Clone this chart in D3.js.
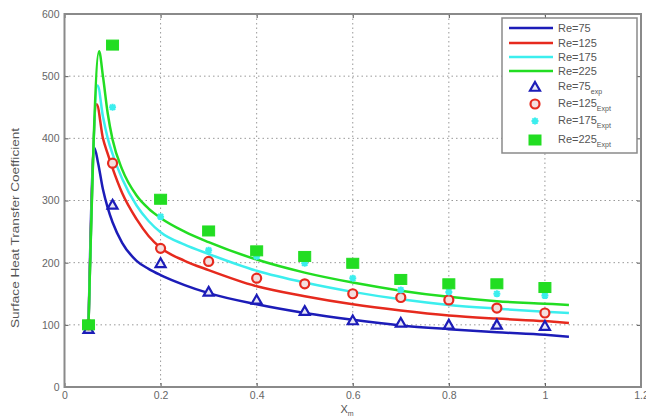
<!DOCTYPE html>
<html><head><meta charset="utf-8">
<script src="https://cdn.jsdelivr.net/npm/d3@7"></script>
<style>
html,body{margin:0;padding:0;background:#fff;}
svg{display:block;font-family:"Liberation Sans",Arial,sans-serif;}
</style></head>
<body><svg id="c" width="646" height="417"></svg>
<script>
// ---- data ----
const xTicks = [0, 0.2, 0.4, 0.6, 0.8, 1, 1.2];
const yTicks = [0, 100, 200, 300, 400, 500, 600];
const xTickLabels = ["0", "0.2", "0.4", "0.6", "0.8", "1", "1.2"];

const curveX75  = [0.05, 0.062, 0.07, 0.08, 0.09, 0.1, 0.12, 0.15, 0.175, 0.2, 0.25, 0.3, 0.4, 0.5, 0.6, 0.7, 0.8, 0.9, 1.0, 1.05];
const curveY75  = [100, 385, 360, 318, 288, 265, 232, 203, 190, 180, 164, 151, 133, 119, 108, 99, 93, 88, 84, 81];
const curveX125 = [0.05, 0.067, 0.08, 0.09, 0.1, 0.12, 0.15, 0.175, 0.2, 0.25, 0.3, 0.4, 0.5, 0.6, 0.7, 0.8, 0.9, 1.0, 1.05];
const curveY125 = [100, 455, 400, 375, 352, 312, 270, 243, 224, 203, 188, 162, 146, 133, 123, 115, 110, 106, 103];
const curveX175 = [0.05, 0.069, 0.08, 0.09, 0.1, 0.12, 0.15, 0.175, 0.2, 0.25, 0.3, 0.4, 0.5, 0.6, 0.7, 0.8, 0.9, 1.0, 1.05];
const curveY175 = [100, 485, 435, 400, 375, 335, 292, 267, 249, 229, 214, 187, 168, 153, 141, 132, 126, 121, 119];
const curveX225 = [0.05, 0.072, 0.08, 0.09, 0.1, 0.12, 0.15, 0.175, 0.2, 0.25, 0.3, 0.4, 0.5, 0.6, 0.7, 0.8, 0.9, 1.0, 1.05];
const curveY225 = [100, 540, 500, 440, 398, 350, 308, 287, 272, 250, 233, 205, 184, 168, 155, 145, 138, 134, 132];

const expX    = [0.05, 0.1, 0.2, 0.3, 0.4, 0.5, 0.6, 0.7, 0.8, 0.9, 1.0];
const exp75   = [93, 293, 199, 153, 140, 122, 107, 103, 100, 100, 98];
const exp125  = [100, 360, 223, 202, 175, 166, 150, 144, 140, 127, 119];
const exp175  = [100, 450, 274, 220, 210, 199, 175, 156, 153, 150, 147];
const exp225  = [100, 550, 302, 251, 219, 210, 199, 173, 166, 166, 160];

const lineNames = ["Re=75", "Re=125", "Re=175", "Re=225"];
const expNames  = [["Re=75", "exp"], ["Re=125", "Expt"], ["Re=175", "Expt"], ["Re=225", "Expt"]];
const colors = ["#1c1cb8", "#e62a1e", "#3ceeee", "#22dd22"];

// ---- layout ----
const svg = d3.select("#c");
const L = 64.5, R = 641, T = 14, B = 387;
const x = d3.scaleLinear().domain([0, 1.2]).range([L, R]);
const y = d3.scaleLinear().domain([0, 600]).range([B, T]);

// grid
const g = svg.append("g");
g.selectAll("line.gx").data(xTicks.slice(1, -1)).enter().append("line")
  .attr("x1", d => x(d)).attr("x2", d => x(d)).attr("y1", T).attr("y2", B)
  .attr("stroke", "#999").attr("stroke-width", 1).attr("stroke-dasharray", "1.5,3");
g.selectAll("line.gy").data(yTicks.slice(1, -1)).enter().append("line")
  .attr("y1", d => y(d)).attr("y2", d => y(d)).attr("x1", L).attr("x2", R)
  .attr("stroke", "#999").attr("stroke-width", 1).attr("stroke-dasharray", "1.5,3");

// axes
const xAx = d3.axisBottom(x).tickValues(xTicks).tickFormat((d, i) => xTickLabels[i]).tickSizeInner(-4).tickSizeOuter(0).tickPadding(5);
const yAx = d3.axisLeft(y).tickValues(yTicks).tickFormat(d3.format("d")).tickSizeInner(-4).tickSizeOuter(0).tickPadding(5);
const gx = svg.append("g").attr("transform", `translate(0,${B})`).call(xAx);
const gy = svg.append("g").attr("transform", `translate(${L},0)`).call(yAx);
[gx, gy].forEach(a => {
  a.select(".domain").remove();
  a.selectAll(".tick line").attr("stroke", "#555");
  a.selectAll(".tick text").attr("fill", "#666").style("font-size", "10.5px");
});
// top/right ticks
svg.append("g").attr("transform", `translate(0,${T})`).call(d3.axisTop(x).tickValues(xTicks).tickFormat("").tickSizeInner(-4).tickSizeOuter(0))
  .call(a => { a.select(".domain").remove(); a.selectAll("line").attr("stroke", "#555"); });
svg.append("g").attr("transform", `translate(${R},0)`).call(d3.axisRight(y).tickValues(yTicks).tickFormat("").tickSizeInner(-4).tickSizeOuter(0))
  .call(a => { a.select(".domain").remove(); a.selectAll("line").attr("stroke", "#555"); });

// frame
svg.append("rect").attr("x", L).attr("y", T).attr("width", R - L).attr("height", B - T)
  .attr("fill", "none").attr("stroke", "#8a8a8a").attr("stroke-width", 2);

// curves
const curves = [[curveX75, curveY75], [curveX125, curveY125], [curveX175, curveY175], [curveX225, curveY225]];
const line = d3.line().x(d => x(d[0])).y(d => y(d[1])).curve(d3.curveMonotoneX);
curves.forEach((c, i) => {
  const pts = c[0].map((v, j) => [v, c[1][j]]);
  svg.append("path").attr("d", line(pts)).attr("fill", "none")
    .attr("stroke", colors[i]).attr("stroke-width", 2.5).attr("stroke-linejoin", "round");
});

// markers
function tri(gg, cx, cy, col) {
  const s = 5;
  gg.append("path").attr("d", `M${cx},${cy - s}L${cx + s},${cy + s * 0.75}L${cx - s},${cy + s * 0.75}Z`)
    .attr("fill", "#e8e8f6").attr("stroke", col).attr("stroke-width", 2.2);
}
function circ(gg, cx, cy, col) {
  gg.append("circle").attr("cx", cx).attr("cy", cy).attr("r", 4.5)
    .attr("fill", "#f4dede").attr("stroke", col).attr("stroke-width", 2.2);
}
function star(gg, cx, cy, col) {
  const s = 3.5;
  gg.append("path").attr("d", `M${cx - s},${cy}L${cx + s},${cy}M${cx},${cy - s}L${cx},${cy + s}M${cx - s * 0.75},${cy - s * 0.75}L${cx + s * 0.75},${cy + s * 0.75}M${cx - s * 0.75},${cy + s * 0.75}L${cx + s * 0.75},${cy - s * 0.75}`)
    .attr("stroke", col).attr("stroke-width", 2);
}
function sq(gg, cx, cy, col) {
  gg.append("rect").attr("x", cx - 6).attr("y", cy - 5).attr("width", 12).attr("height", 10)
    .attr("fill", col).attr("stroke", col).attr("stroke-width", 1);
}
const mk = [tri, circ, star, sq];
const expData = [exp75, exp125, exp175, exp225];
const mg = svg.append("g");
[0, 1, 2, 3].forEach(i => {
  expX.forEach((v, j) => mk[i](mg, x(v), y(expData[i][j]), colors[i]));
});

// legend
const lg = svg.append("g");
lg.append("rect").attr("x", 502).attr("y", 18).attr("width", 135).attr("height", 135)
  .attr("fill", "#fff").attr("stroke", "#8a8a8a").attr("stroke-width", 1.5);
const rowsY = [28, 43, 57, 71, 87, 104, 121, 140];
lineNames.forEach((n, i) => {
  lg.append("line").attr("x1", 509).attr("x2", 553).attr("y1", rowsY[i]).attr("y2", rowsY[i])
    .attr("stroke", colors[i]).attr("stroke-width", 2.5);
  lg.append("text").attr("x", 558).attr("y", rowsY[i] + 4).text(n)
    .attr("fill", "#555").style("font-size", "11px");
});
expNames.forEach((n, i) => {
  const yy = rowsY[4 + i];
  mk[i](lg, 535, yy, colors[i]);
  const t = lg.append("text").attr("x", 558).attr("y", yy + 3).attr("fill", "#555").style("font-size", "11px");
  t.append("tspan").text(n[0]);
  t.append("tspan").attr("dy", 4).style("font-size", "7px").text(n[1]);
});

// axis labels
svg.append("text").attr("transform", "translate(19,228) rotate(-90)").attr("text-anchor", "middle")
  .attr("fill", "#555").style("font-size", "10.5px")
  .attr("textLength", 200).attr("lengthAdjust", "spacingAndGlyphs")
  .text("Surface Heat Transfer Coefficient");
const xl = svg.append("text").attr("x", 347).attr("y", 413).attr("text-anchor", "middle")
  .attr("fill", "#555").style("font-size", "11px");
xl.append("tspan").text("X");
xl.append("tspan").attr("dy", 3).style("font-size", "7px").text("m");
</script></body></html>
